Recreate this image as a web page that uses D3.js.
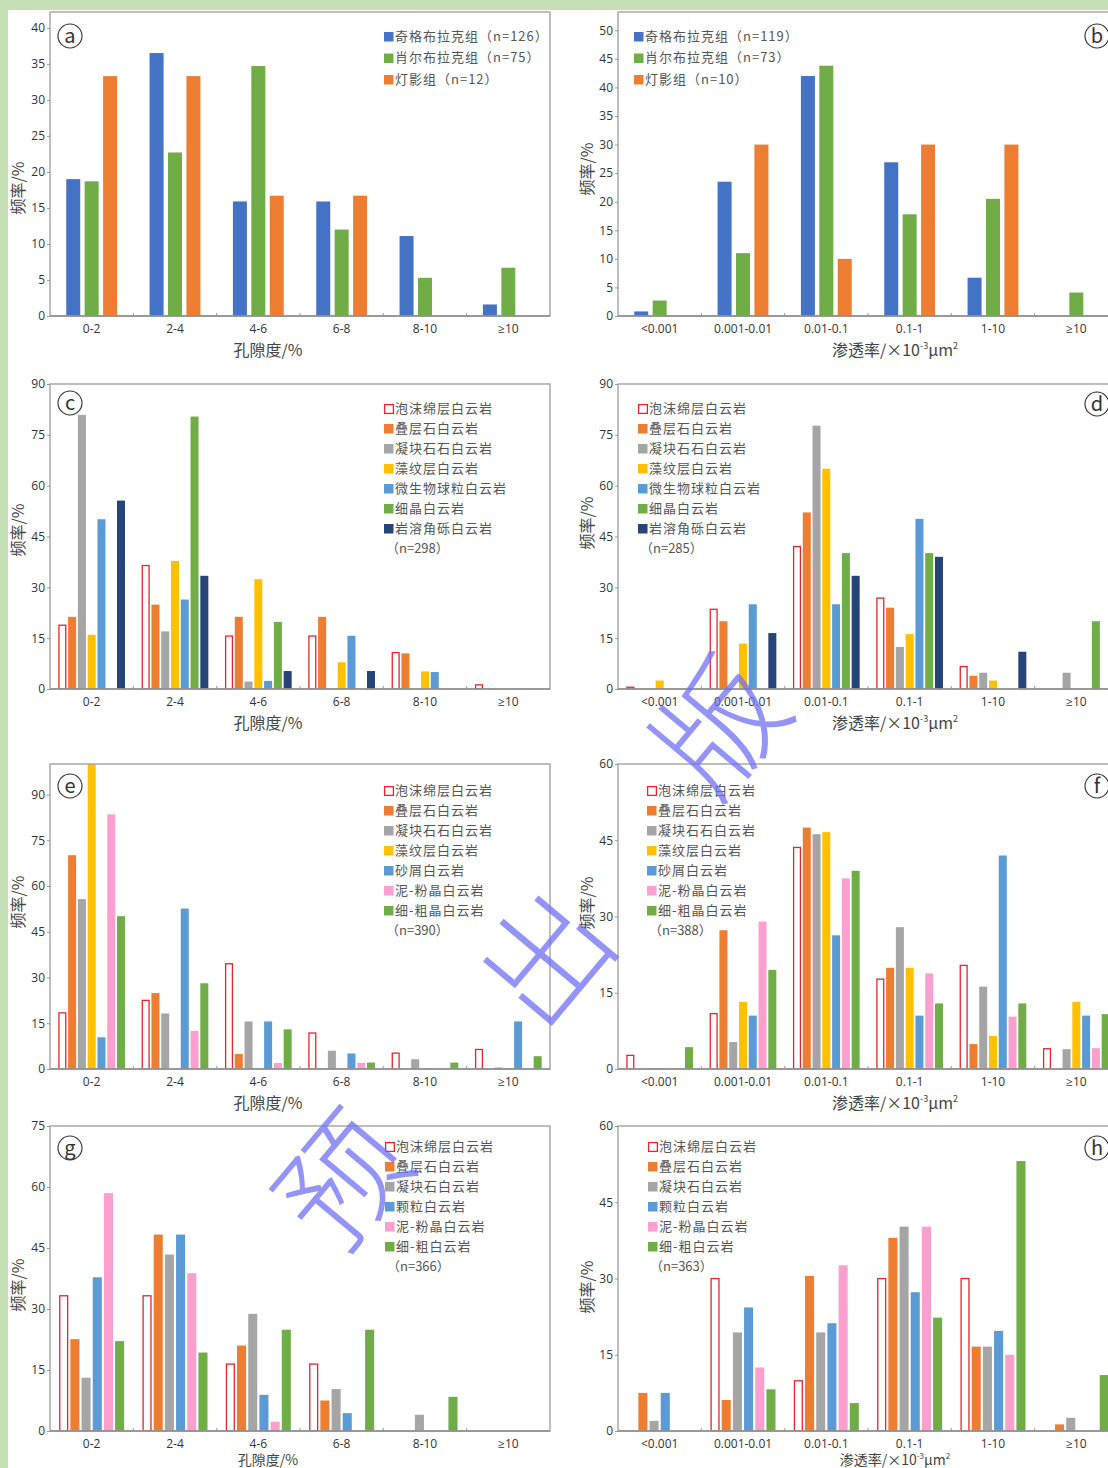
<!DOCTYPE html>
<html>
<head>
<meta charset="utf-8">
<script src="https://cdn.jsdelivr.net/npm/d3@7"></script>
<style>
  body { margin: 0; background: #fff; }
  svg { display: block; }
  text { font-family: "Noto Sans CJK SC", "Noto Sans", sans-serif; }
  .tick text { font-family: "Open Sans", "Noto Sans", sans-serif; font-size: 12px; fill: #333; }
</style>
</head>
<body>
<svg id="fig"></svg>
<script>
// categories
const poroCats = ["0-2", "2-4", "4-6", "6-8", "8-10", "≥10"];
const permCats = ["<0.001", "0.001-0.01", "0.01-0.1", "0.1-1", "1-10", "≥10"];

// (a) porosity by formation
const aQige = [19.0, 36.5, 15.9, 15.9, 11.1, 1.6];
const aXiaoer = [18.7, 22.7, 34.7, 12.0, 5.3, 6.7];
const aDengying = [33.3, 33.3, 16.7, 16.7, 0, 0];
// (b) permeability by formation
const bQige = [0.8, 23.5, 42.0, 26.9, 6.7, 0];
const bXiaoer = [2.7, 11.0, 43.8, 17.8, 20.5, 4.1];
const bDengying = [0, 30, 10, 30, 30, 0];

// (c) porosity, 7 lithologies
const cFoam = [19.0, 36.6, 15.8, 15.8, 10.9, 1.4];
const cStrom = [21.3, 24.9, 21.3, 21.3, 10.5, 0];
const cThromb = [80.9, 17.0, 2.2, 0, 0, 0];
const cAlgal = [16.0, 37.8, 32.4, 7.9, 5.2, 0];
const cPeloid = [50.1, 26.4, 2.4, 15.7, 5.0, 0];
const cFine = [0, 80.4, 19.8, 0, 0, 0];
const cBreccia = [55.6, 33.4, 5.3, 5.3, 0, 0];
// (d) permeability
const dFoam = [0.7, 23.7, 42.2, 27.0, 6.8, 0];
const dStrom = [0, 20.0, 52.1, 24.0, 3.9, 0];
const dThromb = [0, 0, 77.7, 12.4, 4.8, 4.8];
const dAlgal = [2.5, 13.4, 65.0, 16.2, 2.5, 0];
const dPeloid = [0, 25.0, 25.0, 50.2, 0, 0];
const dFine = [0, 0, 40.1, 40.1, 0, 20.0];
const dBreccia = [0, 16.5, 33.4, 39.0, 11.0, 0];

// (e) porosity
const eFoam = [18.6, 22.7, 34.7, 12.0, 5.4, 6.6];
const eStrom = [70.1, 24.9, 4.9, 0, 0, 0];
const eThromb = [55.7, 18.2, 15.6, 6.0, 3.2, 0.5];
const eAlgal = [100, 0, 0, 0, 0, 0];
const eDetrital = [10.4, 52.6, 15.6, 5.1, 0, 15.6];
const eMicrite = [83.5, 12.5, 2.0, 2.0, 0, 0];
const eCrystal = [50.1, 28.1, 13.0, 2.1, 2.1, 4.2];
// (f) permeability
const fFoam = [2.8, 11.0, 43.7, 17.8, 20.5, 4.1];
const fStrom = [0, 27.3, 47.5, 19.9, 4.9, 0];
const fThromb = [0, 5.3, 46.2, 27.9, 16.2, 3.9];
const fAlgal = [0, 13.2, 46.6, 19.9, 6.5, 13.2];
const fDetrital = [0, 10.5, 26.3, 10.5, 42.0, 10.5];
const fMicrite = [0, 29.0, 37.5, 18.8, 10.3, 4.1];
const fCrystal = [4.3, 19.5, 39.0, 12.9, 12.9, 10.8];

// (g) porosity
const gFoam = [33.4, 33.4, 16.6, 16.6, 0, 0];
const gStrom = [22.6, 48.3, 21.0, 7.5, 0, 0];
const gThromb = [13.1, 43.4, 28.8, 10.3, 4.0, 0];
const gGrain = [37.8, 48.3, 8.9, 4.4, 0, 0];
const gMicrite = [58.5, 38.8, 2.3, 0, 0, 0];
const gCrystal = [22.1, 19.3, 24.9, 24.9, 8.4, 0];
// (h) permeability
const hFoam = [0, 30.1, 10.0, 30.1, 30.1, 0];
const hStrom = [7.5, 6.1, 30.5, 38.0, 16.6, 1.3];
const hThromb = [2.0, 19.4, 19.4, 40.2, 16.6, 2.6];
const hGrain = [7.5, 24.3, 21.2, 27.3, 19.7, 0];
const hMicrite = [0, 12.5, 32.6, 40.2, 15.0, 0];
const hCrystal = [0, 8.2, 5.5, 22.3, 53.1, 11.0];

const C = {
  blue: "#4472c4", green: "#70ad47", orange: "#ed7d31", gray: "#a5a5a5",
  yellow: "#ffc000", sky: "#5b9bd5", navy: "#264478", pink: "#fb9fcf", red: "#e3262b"
};

const W = 1108, H = 1468;
const svg = d3.select("#fig").attr("width", W).attr("height", H);
svg.append("rect").attr("width", W).attr("height", H).attr("fill", "#fff");
svg.append("rect").attr("width", W).attr("height", 10).attr("fill", "#c5e0b4");
svg.append("rect").attr("width", 8).attr("height", H).attr("fill", "#c5e0b4");

const L = 50, R = 618, PW = 500;

const panels = [
  { id: "a", left: L, top: 12, h: 304, ymax: 42.2, ticks: d3.range(0, 41, 5), cats: poroCats, ratio: 0.61, pad: 0.24,
    series: [["奇格布拉克组（n=126）", aQige, C.blue], ["肖尔布拉克组（n=75）", aXiaoer, C.green], ["灯影组（n=12）", aDengying, C.orange]],
    leg: [384, 36, 21.5], n: null, ytY: 188, badge: [70, 36] },
  { id: "b", left: R, top: 12, h: 304, ymax: 53.2, ticks: d3.range(0, 51, 5), cats: permCats, ratio: 0.61, pad: 0.24,
    series: [["奇格布拉克组（n=119）", bQige, C.blue], ["肖尔布拉克组（n=73）", bXiaoer, C.green], ["灯影组（n=10）", bDengying, C.orange]],
    leg: [634, 36, 21.5], n: null, ytY: 169, badge: [1097, 36] },
  { id: "c", left: L, top: 384, h: 305, ymax: 90, ticks: d3.range(0, 91, 15), cats: poroCats, ratio: 0.8, pad: 0.18,
    series: [["泡沫绵层白云岩", cFoam, C.red, true], ["叠层石白云岩", cStrom, C.orange], ["凝块石石白云岩", cThromb, C.gray],
             ["藻纹层白云岩", cAlgal, C.yellow], ["微生物球粒白云岩", cPeloid, C.sky], ["细晶白云岩", cFine, C.green], ["岩溶角砾白云岩", cBreccia, C.navy]],
    leg: [384, 408, 20], n: "（n=298）", ytY: 530, badge: [70, 403] },
  { id: "d", left: R, top: 384, h: 305, ymax: 90, ticks: d3.range(0, 91, 15), cats: permCats, ratio: 0.8, pad: 0.18,
    series: [["泡沫绵层白云岩", dFoam, C.red, true], ["叠层石白云岩", dStrom, C.orange], ["凝块石石白云岩", dThromb, C.gray],
             ["藻纹层白云岩", dAlgal, C.yellow], ["微生物球粒白云岩", dPeloid, C.sky], ["细晶白云岩", dFine, C.green], ["岩溶角砾白云岩", dBreccia, C.navy]],
    leg: [638, 408, 20], n: "（n=285）", ytY: 523, badge: [1097, 404] },
  { id: "e", left: L, top: 764, h: 305, ymax: 100, ticks: d3.range(0, 91, 15), cats: poroCats, ratio: 0.8, pad: 0.18,
    series: [["泡沫绵层白云岩", eFoam, C.red, true], ["叠层石白云岩", eStrom, C.orange], ["凝块石石白云岩", eThromb, C.gray],
             ["藻纹层白云岩", eAlgal, C.yellow], ["砂屑白云岩", eDetrital, C.sky], ["泥-粉晶白云岩", eMicrite, C.pink], ["细-粗晶白云岩", eCrystal, C.green]],
    leg: [384, 790, 20], n: "（n=390）", ytY: 902, badge: [70, 786] },
  { id: "f", left: R, top: 764, h: 305, ymax: 60, ticks: d3.range(0, 61, 15), cats: permCats, ratio: 0.8, pad: 0.18,
    series: [["泡沫绵层白云岩", fFoam, C.red, true], ["叠层石白云岩", fStrom, C.orange], ["凝块石石白云岩", fThromb, C.gray],
             ["藻纹层白云岩", fAlgal, C.yellow], ["砂屑白云岩", fDetrital, C.sky], ["泥-粉晶白云岩", fMicrite, C.pink], ["细-粗晶白云岩", fCrystal, C.green]],
    leg: [647, 790, 20], n: "（n=388）", ytY: 903, badge: [1097, 786] },
  { id: "g", left: L, top: 1126, h: 305, ymax: 75, ticks: d3.range(0, 76, 15), cats: poroCats, ratio: 0.78, pad: 0.19,
    series: [["泡沫绵层白云岩", gFoam, C.red, true], ["叠层石白云岩", gStrom, C.orange], ["凝块石白云岩", gThromb, C.gray],
             ["颗粒白云岩", gGrain, C.sky], ["泥-粉晶白云岩", gMicrite, C.pink], ["细-粗白云岩", gCrystal, C.green]],
    leg: [385, 1146, 20], n: "（n=366）", ytY: 1285, badge: [70, 1148] },
  { id: "h", left: R, top: 1126, h: 305, ymax: 60, ticks: d3.range(0, 61, 15), cats: permCats, ratio: 0.78, pad: 0.19,
    series: [["泡沫绵层白云岩", hFoam, C.red, true], ["叠层石白云岩", hStrom, C.orange], ["凝块石白云岩", hThromb, C.gray],
             ["颗粒白云岩", hGrain, C.sky], ["泥-粉晶白云岩", hMicrite, C.pink], ["细-粗白云岩", hCrystal, C.green]],
    leg: [648, 1146, 20], n: "（n=363）", ytY: 1287, badge: [1097, 1148] }
];

function drawPanel(p) {
  const g = svg.append("g");
  const base = p.top + p.h;
  const y = d3.scaleLinear().domain([0, p.ymax]).range([base, p.top]);
  const x0 = d3.scaleBand().domain(p.cats).range([p.left, p.left + PW]);
  const bw = x0.bandwidth(), gw = bw * p.ratio;
  const x1 = d3.scaleBand().domain(d3.range(p.series.length))
    .range([(bw - gw) / 2, (bw + gw) / 2]).paddingInner(p.pad);

  g.append("clipPath").attr("id", "clip-" + p.id)
    .append("rect").attr("x", p.left).attr("y", p.top).attr("width", PW).attr("height", p.h);

  const bars = g.append("g").attr("clip-path", `url(#clip-${p.id})`);
  p.series.forEach(([name, vals, col, outline], si) => {
    const rows = vals.map((v, i) => ({ cat: p.cats[i], v })).filter(d => d.v > 0);
    const sel = bars.append("g").selectAll("rect").data(rows).join("rect");
    if (outline) {
      sel.attr("x", d => x0(d.cat) + x1(si) + 0.6)
        .attr("width", x1.bandwidth() - 1.2)
        .attr("y", d => y(d.v) + 0.6)
        .attr("height", d => base - y(d.v) - 0.6)
        .attr("fill", "#fff").attr("stroke", col).attr("stroke-width", 1.3);
    } else {
      sel.attr("x", d => x0(d.cat) + x1(si))
        .attr("width", x1.bandwidth())
        .attr("y", d => y(d.v))
        .attr("height", d => base - y(d.v))
        .attr("fill", col);
    }
  });

  // frame
  g.append("rect").attr("x", p.left).attr("y", p.top).attr("width", PW).attr("height", p.h)
    .attr("fill", "none").attr("stroke", "#a3a3a3").attr("stroke-width", 1.4);
  g.append("line").attr("x1", p.left).attr("x2", p.left + PW).attr("y1", base).attr("y2", base)
    .attr("stroke", "#8c8c8c").attr("stroke-width", 1.4);

  // small ticks between categories
  g.selectAll(".sep").data(p.cats.slice(1)).join("line")
    .attr("x1", d => x0(d)).attr("x2", d => x0(d)).attr("y1", base).attr("y2", base - 3)
    .attr("stroke", "#999");

  const ya = g.append("g").attr("transform", `translate(${p.left},0)`)
    .call(d3.axisLeft(y).tickValues(p.ticks).tickSize(3).tickPadding(2));
  ya.select(".domain").remove();
  ya.selectAll(".tick line").attr("stroke", "#999");

  const xa = g.append("g").attr("transform", `translate(0,${base})`)
    .call(d3.axisBottom(x0).tickSize(0).tickPadding(8));
  xa.select(".domain").remove();

  // axis titles (the bottom row has little room left, so smaller there)
  const cx = p.left === L ? 268 : 895;
  const lastRow = base + 40 > H;
  const xt = g.append("text").attr("x", cx).attr("y", lastRow ? H - 3 : base + 40).attr("text-anchor", "middle")
    .attr("font-size", lastRow ? 14 : 16).attr("fill", "#444");
  const sup = lastRow ? 8 : 9, sh = lastRow ? 6 : 7;
  if (p.cats === poroCats) {
    xt.text("孔隙度/%");
  } else {
    xt.append("tspan").text("渗透率/×10");
    xt.append("tspan").attr("dy", -sh).attr("font-size", sup).text("-3");
    xt.append("tspan").attr("dy", sh).text("μm");
    xt.append("tspan").attr("dy", -sh).attr("font-size", sup).text("2");
  }
  const ytx = p.left === L ? 18 : 587;
  g.append("text").attr("transform", `translate(${ytx},${p.ytY}) rotate(-90)`)
    .attr("text-anchor", "middle").attr("dy", "0.35em")
    .attr("font-size", 16).attr("fill", "#444").text("频率/%");

  // legend
  const [lx, ly, ls] = p.leg;
  const lg = g.append("g");
  p.series.forEach(([name, vals, col, outline], i) => {
    const yy = ly + i * ls;
    lg.append("rect").attr("x", lx + (outline ? 0.6 : 0)).attr("y", yy - 4 + (outline ? 0.6 : 0))
      .attr("width", outline ? 8.8 : 9.5).attr("height", outline ? 8.8 : 9.5)
      .attr("fill", outline ? "#fff" : col).attr("stroke", outline ? col : "none").attr("stroke-width", 1.3);
    lg.append("text").attr("x", lx + 11).attr("y", yy).attr("dy", "0.36em")
      .attr("font-size", 13).attr("letter-spacing", 1).attr("fill", "#555").text(name);
  });
  if (p.n) {
    lg.append("text").attr("x", lx + 2).attr("y", ly + p.series.length * ls).attr("dy", "0.36em")
      .attr("font-size", 13).attr("fill", "#555").text(p.n);
  }

  // panel badge
  const [bx, by] = p.badge;
  g.append("circle").attr("cx", bx).attr("cy", by).attr("r", 12)
    .attr("fill", "#fff").attr("stroke", "#333").attr("stroke-width", 1.1);
  g.append("text").attr("x", bx).attr("y", by).attr("dy", "0.34em").attr("text-anchor", "middle")
    .attr("font-family", "'DejaVu Sans', sans-serif").attr("font-size", 20).attr("fill", "#333").text(p.id);
}

panels.forEach(drawPanel);

// diagonal watermark
const marks = [["预", 345, 1182], ["出", 548, 960], ["版", 722, 728]];
svg.append("g").selectAll("text").data(marks).join("text")
  .attr("transform", d => `translate(${d[1]},${d[2]}) rotate(-50)`)
  .attr("text-anchor", "middle").attr("dy", "0.35em")
  .attr("font-size", 125).attr("font-weight", 300)
  .attr("fill", "#6f6ff5").attr("fill-opacity", 0.75)
  .text(d => d[0]);
</script>
</body>
</html>
